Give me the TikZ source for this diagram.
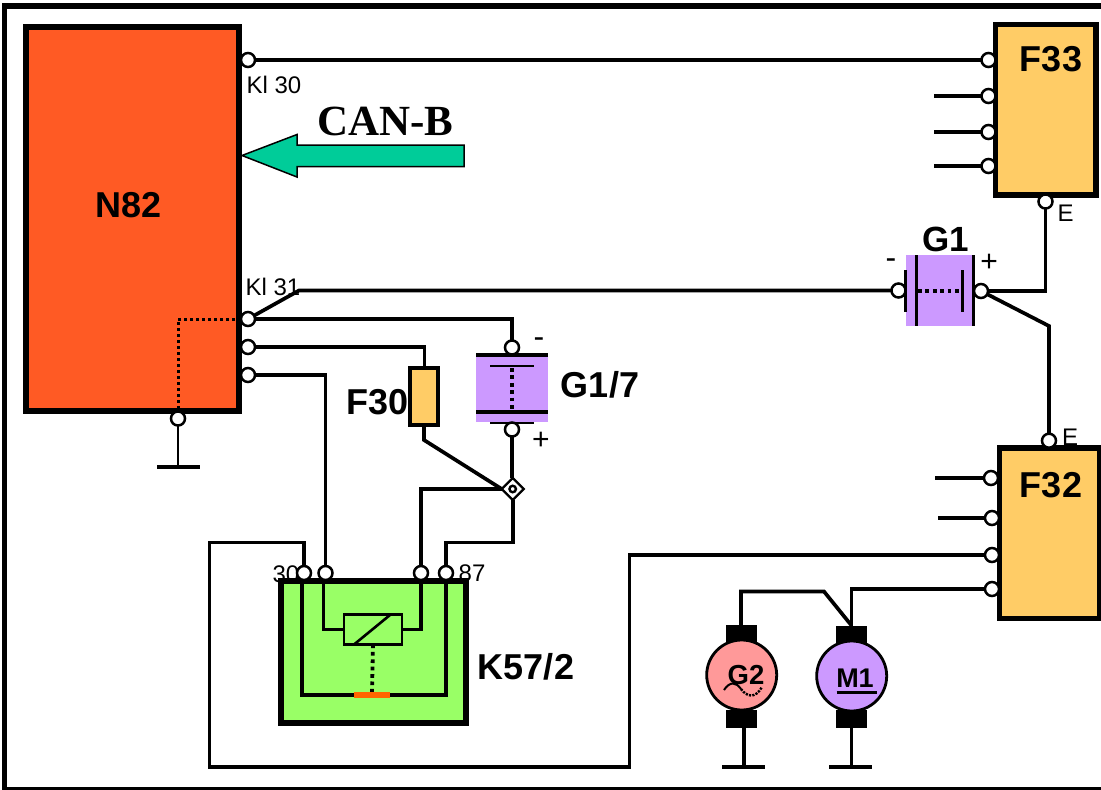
\documentclass[tikz,border=0pt]{standalone}
\usepackage{fontspec}
\setmainfont{Liberation Sans}
\newfontfamily\serifbold{Liberation Serif}[BoldFont={Liberation Serif Bold}]
\usetikzlibrary{shapes.geometric}
\definecolor{nred}{HTML}{FF5A24}
\definecolor{fuse}{HTML}{FFCC66}
\definecolor{lilac}{HTML}{CC99FF}
\definecolor{relaygreen}{HTML}{99FF66}
\definecolor{teal}{HTML}{00CC99}
\definecolor{pinkm}{HTML}{FF9999}
\definecolor{contact}{HTML}{FF6600}
\tikzset{
  wire/.style={line width=3.7pt,line join=miter},
  thinwire/.style={line width=2.6pt},
  dots/.style={line width=3.8pt,dash pattern=on 3.7pt off 3.7pt},
  box/.style={draw=black,rectangle,inner sep=0pt,outer sep=0pt},
  term/.style={circle,draw=black,fill=white,line width=2.5pt,minimum size=14pt,inner sep=0pt,outer sep=0pt},
  blab/.style={inner sep=0pt,font=\bfseries\fontsize{36}{36}\selectfont},
  slab/.style={inner sep=0pt,font=\fontsize{24}{24}\selectfont},
  sign/.style={inner sep=0pt,font=\fontsize{30}{30}\selectfont},
  block/.style={rectangle,fill=black,inner sep=0pt,outer sep=0pt,minimum width=31pt},
  motor/.style={circle,draw=black,line width=2.8pt,minimum size=70pt,inner sep=0pt,outer sep=0pt},
  barline/.style={line width=3.5pt},
  groundbar/.style={line width=4pt}
}
\begin{document}
\begin{tikzpicture}[x=1pt,y=-1pt]
\useasboundingbox (0,0) rectangle (1101,790);
% outer frame
\coordinate (fa) at (1101,6); \coordinate (fb) at (4.5,6); \coordinate (fc) at (4.5,790); \coordinate (fd) at (1101,790);
\draw[line width=5.5pt] (fa) -- (fb) -- (fc) -- (fd);

% boxes
\node[box,fill=nred,line width=5.8pt,minimum width=213pt,minimum height=384pt] (n82) at (132.8,219.2) {};
\node[box,fill=fuse,line width=5.5pt,minimum width=100.3pt,minimum height=170.5pt] (f33) at (1045.8,109.7) {};
\node[box,fill=fuse,line width=5.5pt,minimum width=100pt,minimum height=170.5pt] (f32) at (1049.7,533.2) {};
\node[box,fill=relaygreen,line width=5.5pt,minimum width=184.8pt,minimum height=142pt] (k57) at (373.4,652) {};
\node[box,fill=fuse,line width=4pt,minimum width=27.5pt,minimum height=56.7pt] (f30) at (424.2,396.3) {};
\node[rectangle,fill=lilac,inner sep=0pt,minimum width=67.5pt,minimum height=71pt] (g1) at (939.7,290.5) {};
\node[rectangle,fill=lilac,inner sep=0pt,minimum width=71.7pt,minimum height=66.7pt] (g17) at (511.8,388.3) {};

% CAN-B arrow
\coordinate (a1) at (242,155.5); \coordinate (a2) at (297,134.5); \coordinate (a3) at (297,145);
\coordinate (a4) at (464,145); \coordinate (a5) at (464,166.5); \coordinate (a6) at (297,166.5); \coordinate (a7) at (297,177);
\draw[fill=teal,line width=1.5pt,line join=miter] (a1) -- (a2) -- (a3) -- (a4) -- (a5) -- (a6) -- (a7) -- cycle;

% labels
\node[blab] (ln82) at (129,205) {N82};
\node[blab] (lf33) at (1051,59) {F33};
\node[blab] (lf32) at (1051,485) {F32};
\node[blab,font=\bfseries\fontsize{35}{35}\selectfont] (lg1) at (946,239) {G1};
\node[blab] (lf30) at (378,402) {F30};
\node[blab] (lg17) at (600,385) {G1/7};
\node[blab] (lk57) at (526,667) {K57/2};
\node[inner sep=0pt,font=\serifbold\bfseries\fontsize{43}{43}\selectfont] (lcan) at (385.5,121) {CAN-B};
\node[slab] (lk30) at (274,85) {Kl 30};
\node[slab] (lk31) at (273,287) {Kl 31};
\node[slab] (le1) at (1065.5,213) {E};
\node[slab] (le2) at (1070,437) {E};
\node[slab] (l30) at (286,574) {30};
\node[slab] (l87) at (472,573) {87};
\node[sign,font=\fontsize{32}{32}\selectfont] (lm1) at (891,264) {-};
\node[sign] (lp1) at (989,263) {+};
\node[sign,font=\fontsize{32}{32}\selectfont] (lm2) at (539,343) {-};
\node[sign] (lp2) at (541,441) {+};

% battery plates G1
\coordinate (g1a) at (916.3,255); \coordinate (g1b) at (916.3,326);
\coordinate (g1c) at (973.3,255); \coordinate (g1d) at (973.3,326);
\coordinate (g1e) at (905.7,270); \coordinate (g1f) at (905.7,312);
\coordinate (g1g) at (962.3,270); \coordinate (g1h) at (962.3,312);
\coordinate (g1i) at (918,291); \coordinate (g1j) at (962,291);
\draw[barline] (g1a) -- (g1b); \draw[barline] (g1c) -- (g1d);
\draw[line width=2.6pt] (g1e) -- (g1f); \draw[barline] (g1g) -- (g1h);
\draw[dots] (g1i) -- (g1j);
% battery plates G1/7
\coordinate (g7a) at (476,355); \coordinate (g7b) at (548,355);
\coordinate (g7c) at (490,366); \coordinate (g7d) at (533.5,366);
\coordinate (g7e) at (476,412); \coordinate (g7f) at (548,412);
\coordinate (g7g) at (490,423); \coordinate (g7h) at (533.5,423);
\coordinate (g7i) at (512,368); \coordinate (g7j) at (512,411);
\draw[barline] (g7a) -- (g7b); \draw[barline] (g7e) -- (g7f);
\draw[line width=2.8pt] (g7c) -- (g7d); \draw[line width=2.8pt] (g7g) -- (g7h);
\draw[dots] (g7i) -- (g7j);

% terminals
\node[term] (n30) at (248,60) {};
\node[term] (n31) at (248,319) {};
\node[term] (n2) at (248,347) {};
\node[term] (n3) at (248,375) {};
\node[term] (ng) at (178,418.5) {};
\node[term] (f33a) at (988.5,60) {};
\node[term] (f33b) at (988.5,96) {};
\node[term] (f33c) at (988.5,132) {};
\node[term] (f33d) at (988.5,166) {};
\node[term] (f33e) at (1045.5,201.5) {};
\node[term] (f32e) at (1049,440.7) {};
\node[term] (f32a) at (991,478) {};
\node[term] (f32b) at (992,518) {};
\node[term] (f32c) at (992,555) {};
\node[term] (f32d) at (992,589) {};
\node[term] (g1m) at (898.5,290.5) {};
\node[term] (g1p) at (981,291) {};
\node[term] (g7m) at (512,347.5) {};
\node[term] (g7p) at (512,429.5) {};
\node[term] (k1) at (304,573) {};
\node[term] (k2) at (325.5,573) {};
\node[term] (k3) at (421,573) {};
\node[term] (k4) at (446,573) {};
\node[diamond,draw=black,fill=white,line width=2.2pt,minimum size=22pt,inner sep=0pt,outer sep=0pt] (junc) at (512.7,489) {};
\node[circle,draw=black,fill=white,line width=2.4pt,minimum size=6.5pt,inner sep=0pt] (juncin) at (512.7,489) {};

% free wire ends
\coordinate (s33b) at (934,96); \coordinate (s33c) at (934,132); \coordinate (s33d) at (934,166);
\coordinate (s32a) at (935,478); \coordinate (s32b) at (938,518);
\coordinate (kink31) at (299,290.5);
\coordinate (g1fork) at (1045.5,291);
\coordinate (g1kink) at (1049,326);
\draw[wire] (n30) -- (f33a);
\draw[wire] (s33b) -- (f33b);
\draw[wire] (s33c) -- (f33c);
\draw[wire] (s33d) -- (f33d);
\draw[wire] (s32a) -- (f32a);
\draw[wire] (s32b) -- (f32b);
\draw[wire] (n31) -- (kink31) -- (g1m);
\draw[wire] (g1p) -- (g1fork) -- (f33e);
\draw[wire] (g1p) -- (g1kink) -- (f32e);
\coordinate (c1) at (512,319);
\draw[wire] (n31) -- (c1) -- (g7m);
\coordinate (c2) at (424.5,347);
\draw[wire] (n2) -- (c2) -- (f30.north -| c2);
\coordinate (c3) at (325.5,375);
\draw[wire] (n3) -- (c3) -- (k2);
\coordinate (c4) at (424,440);
\draw[wire] (f30.south -| c4) -- (c4) -- (junc.west);
\draw[wire] (g7p) -- (g7p |- junc.north);
\coordinate (c5) at (421,489);
\draw[wire] (junc.west) -- (c5) -- (k3);
\coordinate (c6) at (512.7,542.5); \coordinate (c7) at (446,542.5);
\draw[wire] (junc.south) -- (c6) -- (c7) -- (k4);
\coordinate (c8) at (304,542.5); \coordinate (c9) at (209.5,542.5);
\coordinate (c10) at (209.5,767); \coordinate (c11) at (629.5,767); \coordinate (c12) at (629.5,555);
\draw[wire] (k1) -- (c8) -- (c9) -- (c10) -- (c11) -- (c12) -- (f32c);
% N82 internal and ground
\coordinate (d1) at (178,319); \coordinate (d2) at (178,408);
\draw[line width=3pt,dash pattern=on 3pt off 3pt] (n31) -- (d1) -- (d2);
\coordinate (gb) at (178,467); \coordinate (gb1) at (157,467); \coordinate (gb2) at (200,467);
\draw[thinwire] (ng) -- (gb);
\draw[groundbar] (gb1) -- (gb2);

% relay interior
\coordinate (r1) at (302,581); \coordinate (r2) at (302,695); \coordinate (r3) at (354,695);
\coordinate (r4) at (390,695); \coordinate (r5) at (446,695); \coordinate (r6) at (446,581);
\draw[wire] (r1) -- (r2) -- (r3);
\draw[wire] (r4) -- (r5) -- (r6);
\node[rectangle,fill=contact,inner sep=0pt,minimum width=36pt,minimum height=6pt] (contactbar) at (372,695) {};
\node[box,line width=2.8pt,minimum width=58pt,minimum height=30pt] (coil) at (373,629.5) {};
\coordinate (r7) at (323.5,581); \coordinate (r8) at (323.5,629.5);
\coordinate (r9) at (421,581); \coordinate (r10) at (421,629.5);
\draw[wire] (r7) -- (r8) -- (coil.west);
\draw[wire] (r9) -- (r10) -- (coil.east);
\coordinate (r11) at (354,644.5); \coordinate (r12) at (390,615);
\draw[line width=2.6pt] (r11) -- (r12);
\draw[dots] (coil.south) -- (contactbar.north);

% motors
\node[block,minimum height=18pt] (g2t) at (741.5,634) {};
\node[block,minimum height=18pt] (g2b) at (741.5,718.5) {};
\node[block,minimum height=18pt] (m1t) at (851.5,634.5) {};
\node[block,minimum height=18pt] (m1b) at (851.5,719) {};
\node[motor,fill=pinkm] (g2) at (741.7,675) {};
\node[motor,fill=lilac] (m1) at (851.7,676) {};
\node[inner sep=0pt,font=\bfseries\fontsize{27.5}{27}\selectfont] (lg2) at (746,675) {G2};
\node[inner sep=0pt,font=\bfseries\fontsize{27}{27}\selectfont] (lm1b) at (855,678.5) {M1};
\coordinate (u1) at (836.5,692.7); \coordinate (u2) at (877,692.7);
\draw[line width=3.5pt] (u1) -- (u2);
\coordinate (w1) at (724,690); \coordinate (w1a) at (730,681); \coordinate (w1b) at (736,682);
\coordinate (w2) at (747,697); \coordinate (w2a) at (755,699); \coordinate (w3) at (762,687);
\draw[line width=2pt] (w1) .. controls (w1a) and (w1b) .. (741,689);
\draw[line width=2.4pt,dash pattern=on 2.2pt off 1.2pt] (741,689) .. controls (w2) and (w2a) .. (w3);
\coordinate (e1) at (741,591.5); \coordinate (e2) at (824,591.5); \coordinate (e3) at (851.5,589);
\draw[wire] (g2t.north -| e1) -- (e1) -- (e2) -- (m1t.north);
\draw[wire] (m1t.north) -- (e3) -- (f32d);
\coordinate (h1) at (744,767); \coordinate (h2) at (722,767); \coordinate (h3) at (765,767);
\coordinate (h4) at (851.5,767); \coordinate (h5) at (829,767); \coordinate (h6) at (872,767);
\draw[wire] (g2b.south -| h1) -- (h1);
\draw[wire] (m1b.south) -- (h4);
\draw[groundbar] (h2) -- (h3);
\draw[groundbar] (h5) -- (h6);
\end{tikzpicture}
\end{document}
